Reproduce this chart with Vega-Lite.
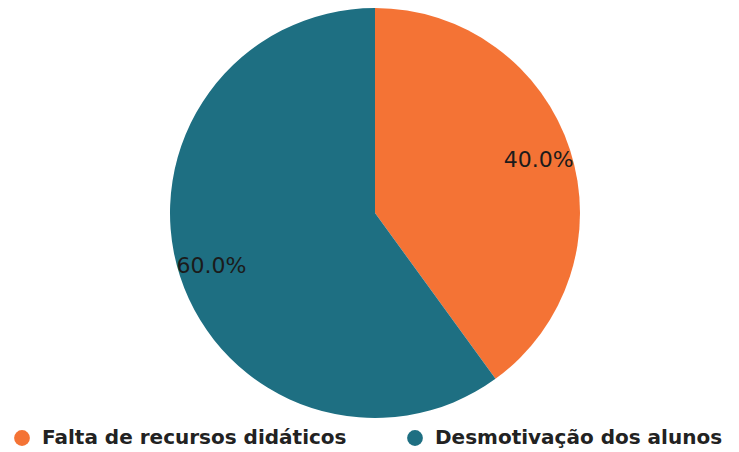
{
  "$schema": "https://vega.github.io/schema/vega-lite/v6.json",
  "width": 750,
  "height": 426,
  "autosize": {"type": "none"},
  "padding": {"left": 0, "top": 0, "right": 0, "bottom": 26},
  "background": "white",
  "data": {"values": [
    {"categoria": "Falta de recursos didáticos", "valor": 40, "ordem": 1, "rotulo": "40.0%"},
    {"categoria": "Desmotivação dos alunos", "valor": 60, "ordem": 2, "rotulo": "60.0%"}
  ]},
  "encoding": {
    "theta": {"field": "valor", "type": "quantitative", "stack": true},
    "order": {"field": "ordem", "type": "quantitative"},
    "color": {
      "field": "categoria", "type": "nominal",
      "sort": ["Falta de recursos didáticos", "Desmotivação dos alunos"],
      "scale": {"domain": ["Falta de recursos didáticos", "Desmotivação dos alunos"], "range": ["#F47335", "#1E6F82"]},
      "legend": {
        "title": null, "orient": "none", "direction": "horizontal",
        "legendX": 12, "legendY": 428,
        "symbolType": "circle", "symbolSize": 250, "symbolStrokeWidth": 0,
        "labelFont": "DejaVu Sans", "labelFontSize": 20, "labelFontWeight": "bold",
        "labelColor": "#222222", "labelOffset": 10, "columnPadding": 58, "labelLimit": 400
      }
    }
  },
  "layer": [
    {"mark": {"type": "arc", "outerRadius": 205, "stroke": null}},
    {"mark": {"type": "text", "radius": 172, "font": "DejaVu Sans", "fontSize": 22},
     "encoding": {"text": {"field": "rotulo"}, "color": {"value": "#1b1b1b"}}}
  ]
}
